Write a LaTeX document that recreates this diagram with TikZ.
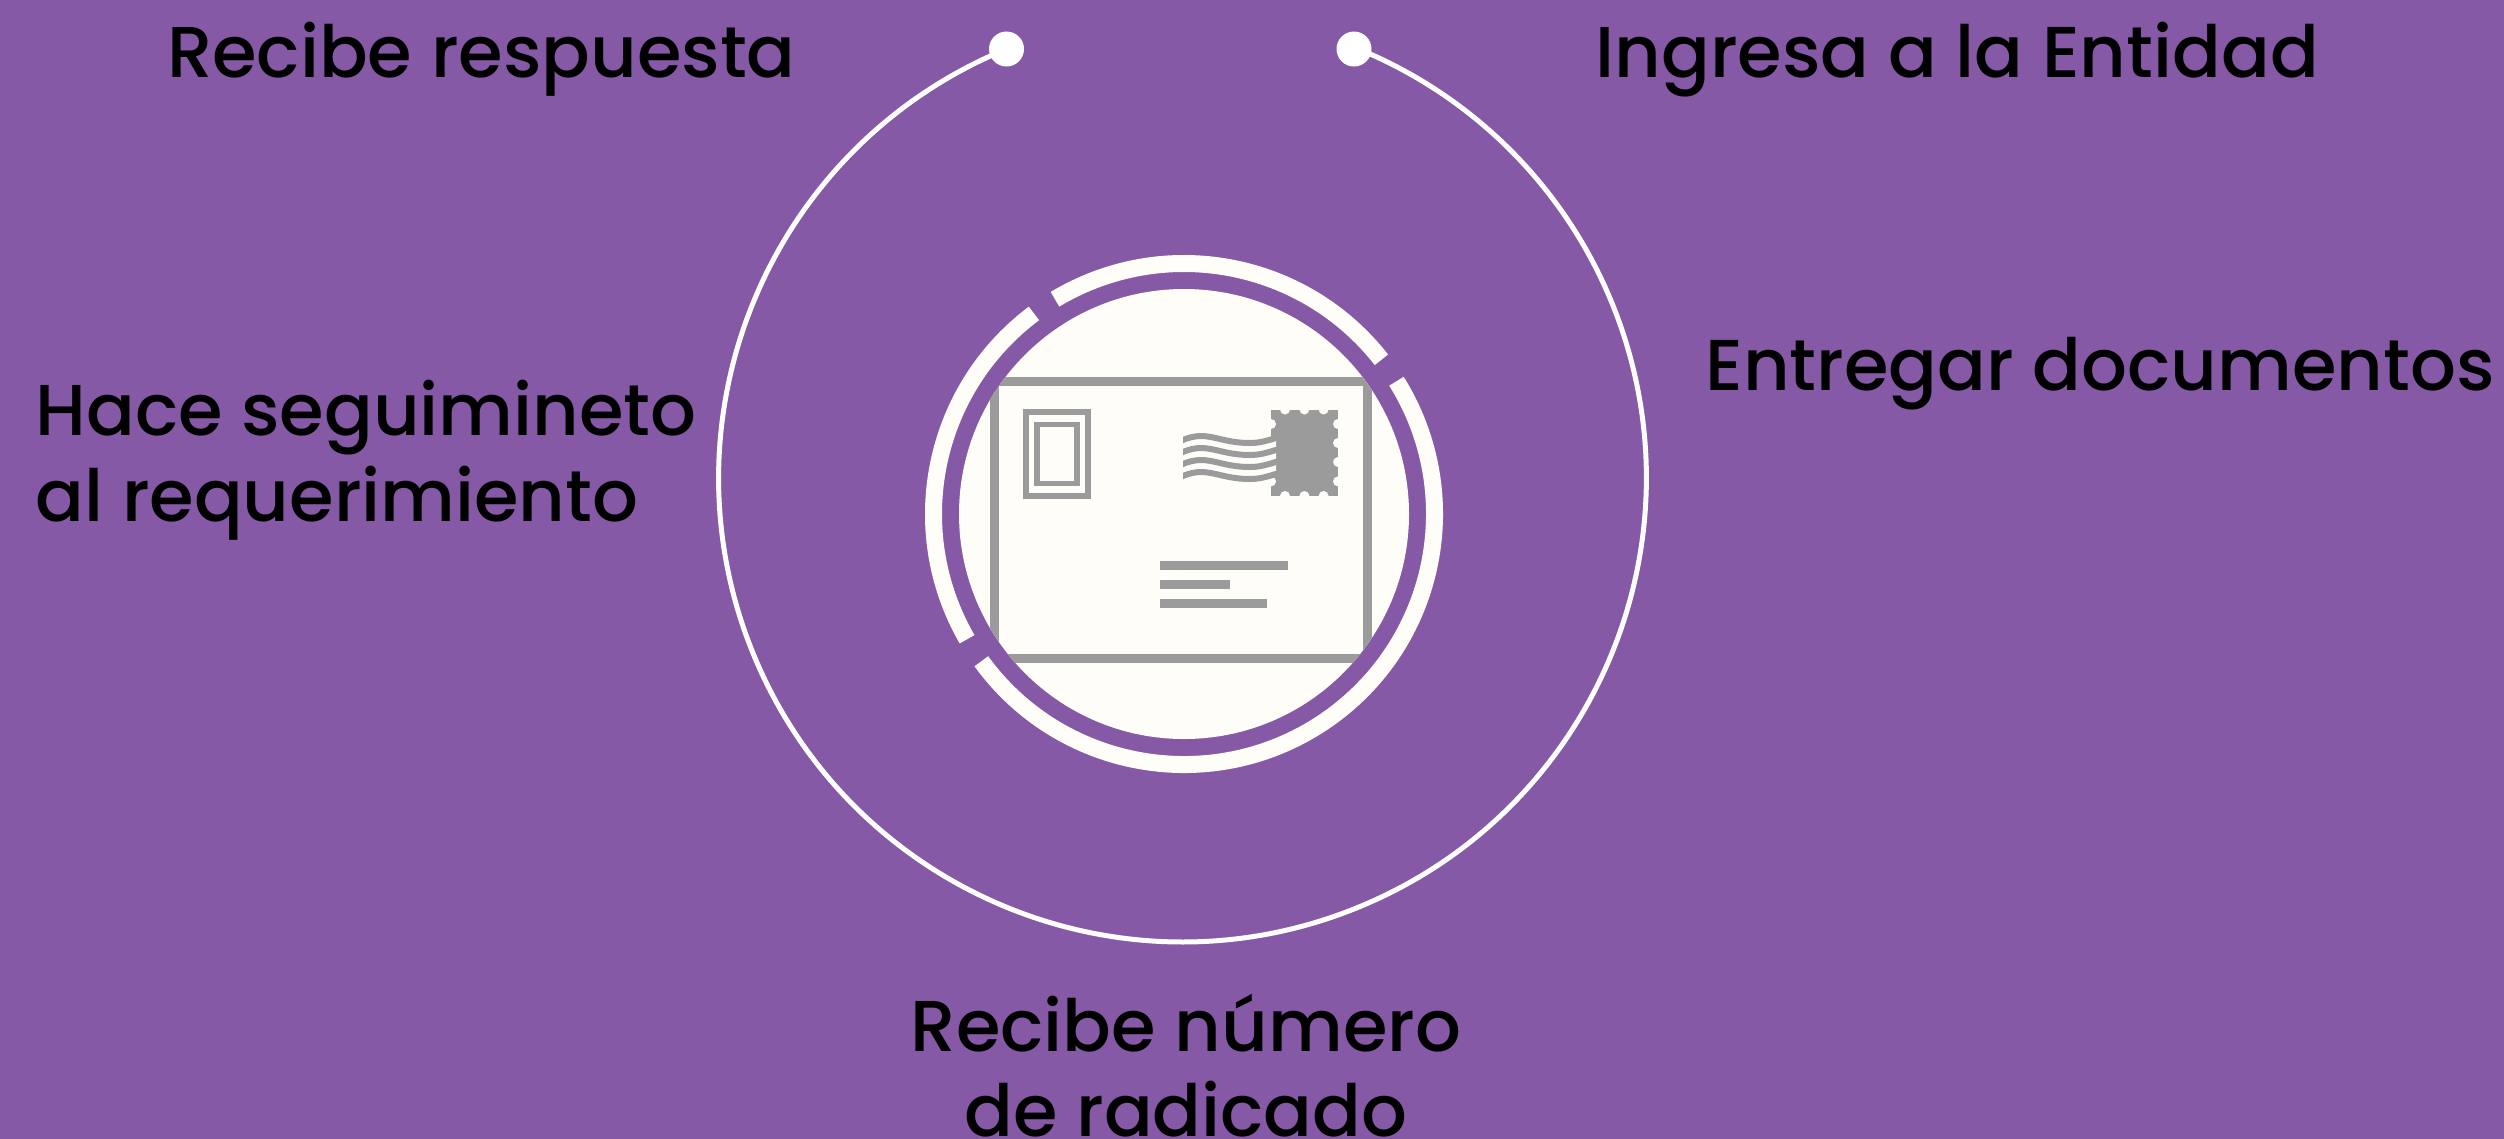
\documentclass[tikz,border=0pt]{standalone}
\usepackage{fontspec}
\setmainfont{Poppins Medium}
\definecolor{bgpurple}{RGB}{133,89,165}
\definecolor{cream}{RGB}{255,253,248}
\definecolor{mailgray}{RGB}{155,155,155}
\tikzset{
  label text/.style={inner sep=0pt,outer sep=0pt,text=black,font=\fontsize{72bp}{85bp}\selectfont},
  dotnode/.style={circle,fill=white,draw=none,minimum size=35bp,inner sep=0pt},
  ringseg/.style={draw=cream,line width=17bp},
  graystroke/.style={draw=mailgray,line width=5.5bp},
  graybar/.style={fill=mailgray,draw=none},
  wave/.pic={\draw[pic actions] (-4,2) .. controls (1,-1) and (10,-4) .. (18,-4) .. controls (32,-4) and (44,3) .. (67,3) .. controls (78,3) and (86,0) .. (96,-3);},
}
\begin{document}
\begin{tikzpicture}[x=1bp,y=-1bp]
\useasboundingbox (0,0) rectangle (2504,1138);
\fill[bgpurple] (-6,-6) rectangle (2510,1144);
% dots and big arc
\node[dotnode] (dotL) at (1006.5,49) {};
\node[dotnode] (dotR) at (1354,49) {};
\draw[white,line width=5bp] (dotL.center) arc (112.3:427.9:463.8bp);
% ring
\draw[ringseg] (1184,514) ++(38:250.5bp) arc (38:121:250.5bp);
\draw[ringseg] (1184,514) ++(126.8:250.5bp) arc (126.8:210:250.5bp);
\draw[ringseg] (1184,514) ++(216:250.5bp) arc (216:392:250.5bp);
% disc
\fill[cream] (1184,514) circle (225bp);
% envelope frame
\begin{scope}
\clip (1184,514) circle (225bp);
\draw[mailgray,line width=9bp] (994.5,381) rectangle (1367.5,658.5);
\end{scope}
% left box
\draw[graystroke] (1026,411.8) rectangle (1088,495.8);
\draw[graystroke] (1037,424.6) rectangle (1077,483.6);
% stamp
\fill[mailgray] (1271,409.5) rectangle (1338,496);
\foreach \p in {1285,1304.4,1323.6}{
  \fill[cream] (\p,409.5) circle (5bp);
  \fill[cream] (\p,496) circle (5bp);
}
\foreach \p in {424,443,462,481.4}{
  \fill[cream] (1338,\p) circle (5bp);
}
\fill[cream] (1271,424) circle (5bp);
\fill[cream] (1271,481.4) circle (5bp);
% wave gaps into the stamp
\begin{scope}
\clip (1265,430) rectangle (1276,480);
\foreach \d in {6,18,30}{
  \pic[draw=cream,line width=6bp] at (1183,440+\d) {wave};
}
\end{scope}
% waves
\begin{scope}
\clip (1183,425) rectangle (1276,490);
\foreach \d in {0,12,24,36}{
  \pic[draw=mailgray,line width=6bp] at (1183,440+\d) {wave};
}
\end{scope}
% address lines
\fill[graybar] (1160,561) rectangle (1288,570);
\fill[graybar] (1160,580) rectangle (1230,589);
\fill[graybar] (1160,599) rectangle (1267,608);
% labels
\node[label text,anchor=base west] (l1) at (167,77) {Recibe respuesta};
\node[label text,anchor=base west] (l2) at (1595.5,77) {Ingresa a la Entidad};
\node[label text,anchor=base west] (l3) at (1705.5,390) {Entregar documentos};
\node[label text,anchor=base west] (l4a) at (35.5,435) {Hace seguimineto};
\node[label text,anchor=base west] (l4b) at (35.5,521) {al requerimiento};
\node[label text,anchor=base] (l5a) at (1186,1051) {Recibe número};
\node[label text,anchor=base] (l5b) at (1186,1136) {de radicado};
\end{tikzpicture}
\end{document}
